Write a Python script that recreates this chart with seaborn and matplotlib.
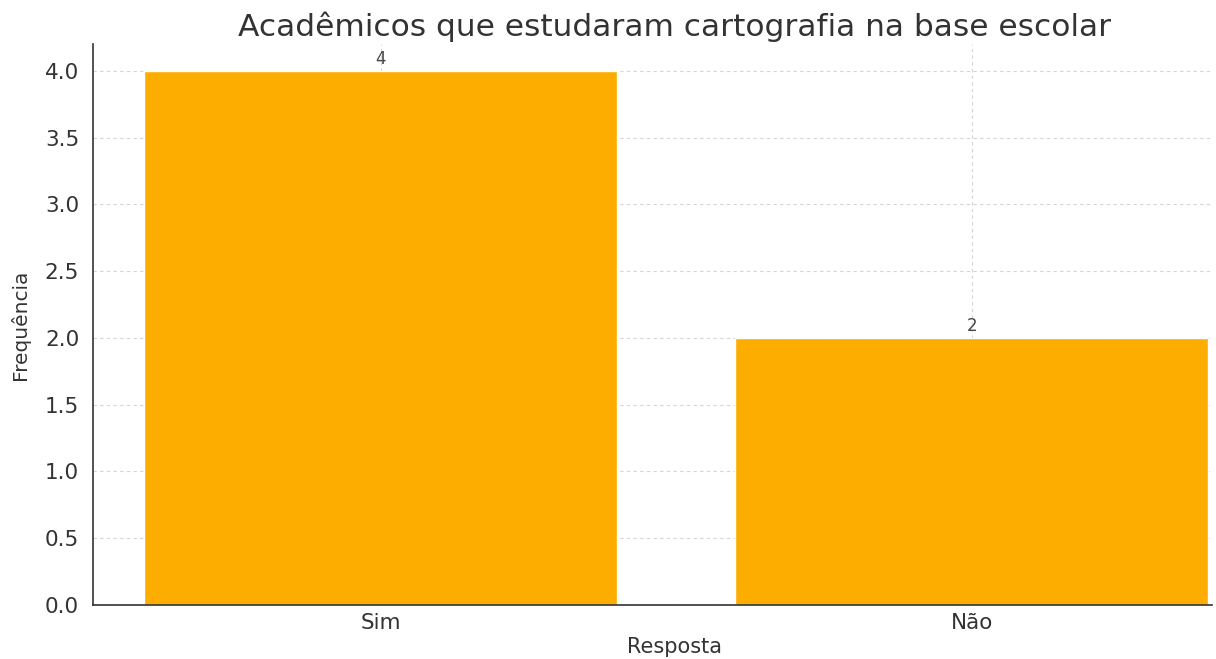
import pandas as pd
import matplotlib.pyplot as plt
import seaborn as sns

# dados
respostas = ["Sim", "Não"]
frequencias = [4, 2]

df = pd.DataFrame({"Resposta": respostas, "Frequência": frequencias})

sns.set_theme(style="white")
plt.rcParams["font.family"] = ["DejaVu Sans"]

fig = plt.figure(figsize=(12.16, 6.59), dpi=100)
ax = fig.add_axes([0.0765, 0.082, 0.92, 0.851])

sns.barplot(data=df, x="Resposta", y="Frequência", color="#FCAD00",
            saturation=1, width=0.8, ax=ax, zorder=2)

for cont in ax.containers:
    ax.bar_label(cont, fmt="%d", fontsize=12, color="#444444", padding=2)

ax.set_xlim(-0.487, 1.406)
ax.set_ylim(0, 4.2)
ax.set_yticks([0, 0.5, 1.0, 1.5, 2.0, 2.5, 3.0, 3.5, 4.0])
ax.set_yticklabels([f"{v:.1f}" for v in ax.get_yticks()])

ax.grid(True, linestyle=(0, (3, 3)), color="#d4d4d4", linewidth=0.8, zorder=0)
ax.set_axisbelow(True)

ax.set_title("Acadêmicos que estudaram cartografia na base escolar",
             fontsize=22.5, color="#333333", x=0.52, pad=6)
ax.set_xlabel("Resposta", fontsize=15, color="#333333")
ax.xaxis.set_label_coords(0.52, -0.057)
ax.set_ylabel("Frequência", fontsize=14.5, color="#333333")
ax.yaxis.set_label_coords(-0.056, 0.5)
ax.tick_params(axis="both", labelsize=15.5, colors="#333333", direction="in",
               length=4, width=1)
ax.tick_params(axis="y", pad=10)
ax.tick_params(axis="x", pad=6)

sns.despine(ax=ax)
for s in ["left", "bottom"]:
    ax.spines[s].set_color("#333333")
    ax.spines[s].set_linewidth(1.2)

fig.savefig("out.png", dpi=100)
